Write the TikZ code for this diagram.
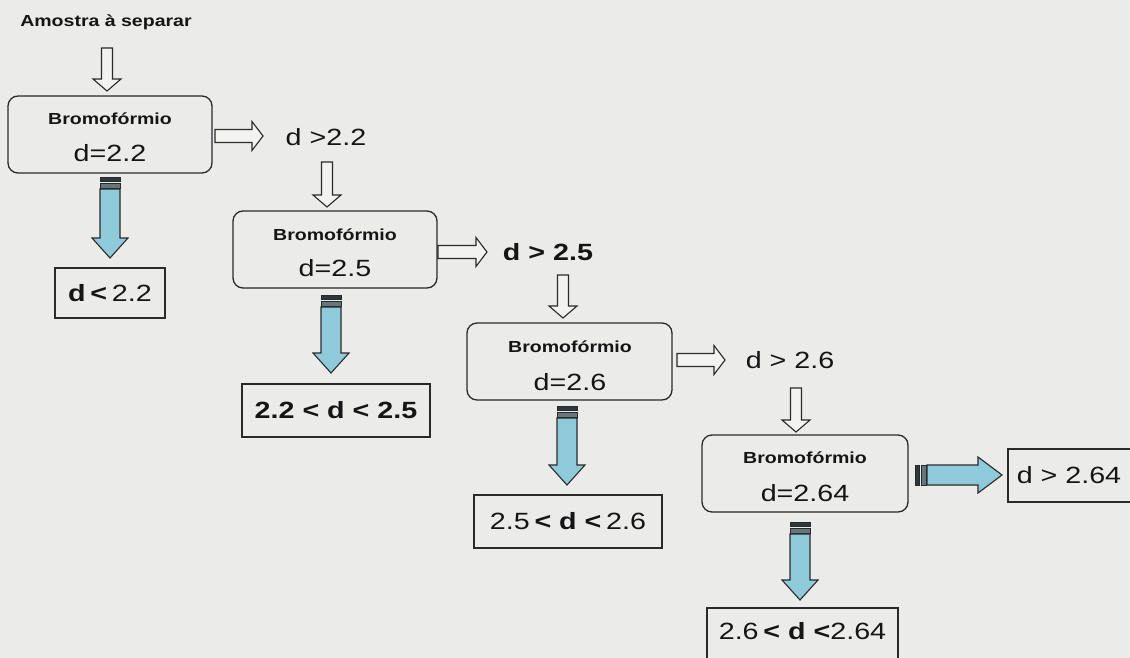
\documentclass[tikz,border=0pt]{standalone}
\usepackage{fontspec}
\setmainfont{Liberation Sans}
\usepackage{graphicx}
\definecolor{bg}{HTML}{EBEBEA}
\definecolor{edge}{HTML}{2A2A2A}
\definecolor{ink}{HTML}{151515}
\definecolor{hollowfill}{HTML}{F2F2F0}
\definecolor{arrowblue}{HTML}{8FCADA}
\definecolor{stripeA}{HTML}{2E383C}
\definecolor{stripeB}{HTML}{66767C}
\newcommand\xstr[1]{\scalebox{1.22}[1]{#1}}
\newcommand\hollowdown[3]{%
  \draw[hollow] ({#1-5.5},#2) -- ({#1+5.5},#2) -- ({#1+5.5},{#3-12}) -- ({#1+14},{#3-12}) -- (#1,#3) -- ({#1-14},{#3-12}) -- ({#1-5.5},{#3-12}) -- cycle;}
\newcommand\hollowright[3]{%
  \draw[hollow] (#1,{#3-6.5}) -- ({#2-11},{#3-6.5}) -- ({#2-11},{#3-14.5}) -- (#2,#3) -- ({#2-11},{#3+14.5}) -- ({#2-11},{#3+6.5}) -- (#1,{#3+6.5}) -- cycle;}
\newcommand\bluedown[3]{%
  \draw[stripe, fill=stripeA] ({#1-10},#2) rectangle ({#1+10},{#2+4});
  \draw[stripe, fill=stripeB] ({#1-10},{#2+6}) rectangle ({#1+10},{#2+11});
  \draw[bluearrow] ({#1-10},{#2+12}) -- ({#1+10},{#2+12}) -- ({#1+10},{#3-20}) -- ({#1+18},{#3-20}) -- (#1,#3) -- ({#1-18},{#3-20}) -- ({#1-10},{#3-20}) -- cycle;}
\newcommand\blueright[3]{%
  \draw[stripe, fill=stripeA] (#1,{#3-10}) rectangle ({#1+4},{#3+10});
  \draw[stripe, fill=stripeB] ({#1+6},{#3-10}) rectangle ({#1+11},{#3+10});
  \draw[bluearrow] ({#1+12},{#3-10}) -- ({#2-24},{#3-10}) -- ({#2-24},{#3-18}) -- (#2,#3) -- ({#2-24},{#3+18}) -- ({#2-24},{#3+10}) -- ({#1+12},{#3+10}) -- cycle;}
\begin{document}
\begin{tikzpicture}[x=1pt,y=-1pt,
  rbox/.style={draw=edge, line width=1.3pt, rounded corners=10pt, minimum width=204pt, minimum height=77pt, inner sep=0pt},
  sbox/.style={draw=edge, line width=1.3pt, inner sep=0pt},
  lbl/.style={inner sep=0pt, text=ink},
  smalltxt/.style={lbl, font=\fontsize{16}{19}\selectfont\bfseries},
  bigtxt/.style={lbl, font=\fontsize{23.5}{28}\selectfont},
  bigbold/.style={lbl, font=\fontsize{23.5}{28}\selectfont\bfseries},
  hollow/.style={draw=edge, line width=1.1pt, fill=hollowfill, line join=miter},
  bluearrow/.style={draw=edge, line width=1.1pt, fill=arrowblue, line join=miter},
  stripe/.style={draw=edge, line width=0.8pt}]
\useasboundingbox (0,0) rectangle (1130,658);
\fill[bg] (0,0) rectangle (1130,658);
\clip (0,0) rectangle (1130,658);

% start
\node[smalltxt] (amostra) at (106,22) {\xstr{Amostra à separar}};
\hollowdown{107}{48}{91}

% stage 1
\node[rbox] (b1) at (110,134.5) {};
\node[smalltxt] (t1) at (110,119) {\xstr{Bromofórmio}};
\node[bigtxt] (v1) at (110,153) {\xstr{d=2.2}};
\hollowright{215}{263}{136}
\node[bigtxt] (g1) at (326,137) {\xstr{d >2.2}};
\hollowdown{327}{162}{207}
\bluedown{110}{177}{258}
\node[sbox, minimum width=110pt, minimum height=50pt] (l1) at (110,293) {};
\node[bigtxt] (l1t) at (l1.center) {\xstr{\textbf{d\,<}\,2.2}};

% stage 2
\node[rbox] (b2) at (335,249.5) {};
\node[smalltxt] (t2) at (335,235) {\xstr{Bromofórmio}};
\node[bigtxt] (v2) at (335,268) {\xstr{d=2.5}};
\hollowright{438}{487}{252}
\node[bigbold] (g2) at (548,252) {\xstr{d > 2.5}};
\hollowdown{563}{275}{318}
\bluedown{331}{295}{373}
\node[sbox, minimum width=188pt, minimum height=53pt] (l2) at (336,410.5) {};
\node[bigbold] (l2t) at (l2.center) {\xstr{2.2 < d < 2.5}};

% stage 3
\node[rbox, minimum width=205pt] (b3) at (569.5,361.5) {};
\node[smalltxt] (t3) at (570,347) {\xstr{Bromofórmio}};
\node[bigtxt] (v3) at (570,382) {\xstr{d=2.6}};
\hollowright{677}{725}{360}
\node[bigtxt] (g3) at (790,360) {\xstr{d > 2.6}};
\hollowdown{796}{388}{432}
\bluedown{567}{406}{485}
\node[sbox, minimum width=188pt, minimum height=53pt] (l3) at (568,521.5) {};
\node[bigtxt] (l3t) at (l3.center) {\xstr{2.5\,\textbf{< d <}\,2.6}};

% stage 4
\node[rbox, minimum width=206pt] (b4) at (805,473.5) {};
\node[smalltxt] (t4) at (805,458) {\xstr{Bromofórmio}};
\node[bigtxt] (v4) at (805,493) {\xstr{d=2.64}};
\blueright{915}{1002}{475}
\node[sbox, minimum width=123pt, minimum height=53pt] (l5) at (1069.5,475.5) {};
\node[bigtxt] (l5t) at (1069,475.5) {\xstr{d > 2.64}};
\bluedown{800}{522}{600}
\node[sbox, minimum width=191pt, minimum height=53pt] (l4) at (802.5,634.5) {};
\node[bigtxt] (l4t) at (802.5,631) {\xstr{2.6\,\textbf{< d <}2.64}};
\end{tikzpicture}
\end{document}
